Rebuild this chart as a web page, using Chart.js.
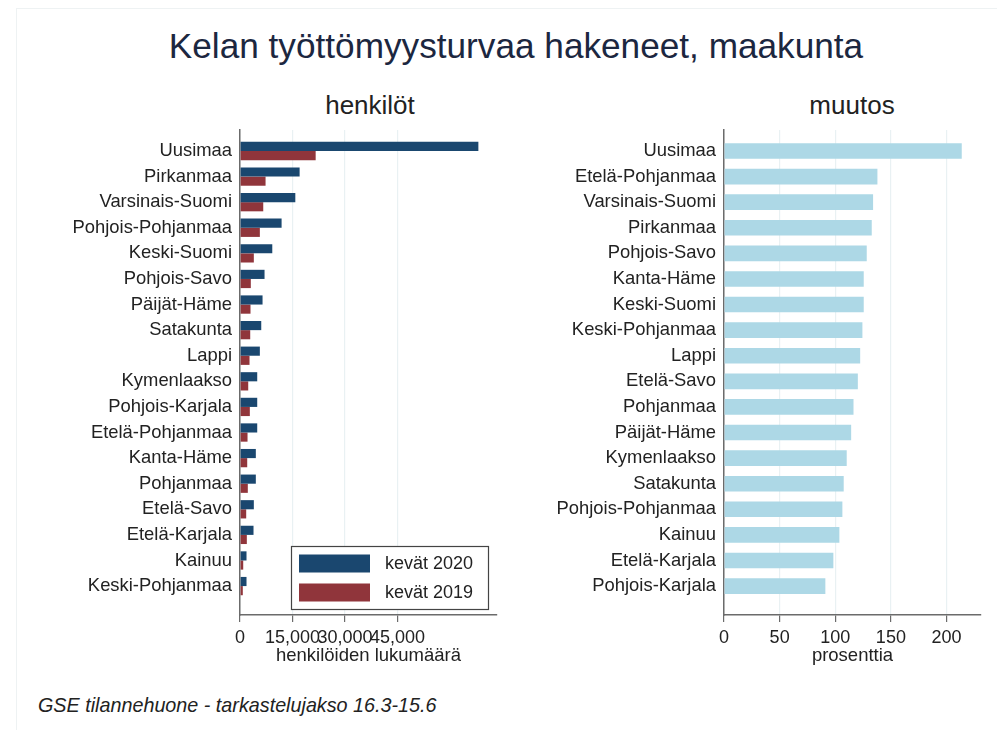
<!DOCTYPE html>
<html>
<head>
<meta charset="utf-8">
<script src="https://cdn.jsdelivr.net/npm/chart.js@4.4.1/dist/chart.umd.min.js"></script>
<style>
  body { margin: 0; background: #fff; font-family: "Liberation Sans", Arial, sans-serif; }
  #page { position: relative; width: 997px; height: 730px; overflow: hidden; background: #fff; }
  #frame { position: absolute; left: 16px; top: 8px; right: -2px; bottom: -2px;
           border-left: 1px solid #eef2f3; border-top: 1px solid #eef2f3; }
  .txt { position: absolute; white-space: nowrap; line-height: 1; color: #1c2740; }
  #title { left: 516px; top: 28px; transform: translateX(-50%); font-size: 35.2px; }
  #sub1 { left: 370px; top: 92px; transform: translateX(-50%); font-size: 26px; color: #222; }
  #sub2 { left: 852px; top: 92px; transform: translateX(-50%); font-size: 26px; color: #222; }
  #note { left: 38px; top: 696px; font-size: 19.75px; font-style: italic; color: #222; }
  canvas { position: absolute; top: 120px; }
  #left { left: 0; }
  #right { left: 500px; }
</style>
</head>
<body>
<div id="page">
  <div id="frame"></div>
  <div class="txt" id="title">Kelan työttömyysturvaa hakeneet, maakunta</div>
  <div class="txt" id="sub1">henkilöt</div>
  <div class="txt" id="sub2">muutos</div>
  <canvas id="left" width="510" height="551"></canvas>
  <canvas id="right" width="497" height="551"></canvas>
  <div class="txt" id="note">GSE tilannehuone - tarkastelujakso 16.3-15.6</div>
</div>
<script>
// henkilöt (vasen paneeli)
const maakunnat = ['Uusimaa', 'Pirkanmaa', 'Varsinais-Suomi', 'Pohjois-Pohjanmaa', 'Keski-Suomi',
  'Pohjois-Savo', 'Päijät-Häme', 'Satakunta', 'Lappi', 'Kymenlaakso', 'Pohjois-Karjala',
  'Etelä-Pohjanmaa', 'Kanta-Häme', 'Pohjanmaa', 'Etelä-Savo', 'Etelä-Karjala', 'Kainuu', 'Keski-Pohjanmaa'];
const kevat2020 = [68080, 17030, 15800, 11880, 9220, 7010, 6440, 6070, 5670, 4920, 4920, 4920, 4520, 4520, 3950, 3860, 1860, 1860];
const kevat2019 = [21610, 7300, 6640, 5670, 3950, 3090, 3000, 2920, 2720, 2350, 2810, 2150, 2060, 2230, 1770, 1950, 920, 800];
const henkiloTicks = [0, 15000, 30000, 45000];

// muutos (oikea paneeli)
const muutosMaakunnat = ['Uusimaa', 'Etelä-Pohjanmaa', 'Varsinais-Suomi', 'Pirkanmaa', 'Pohjois-Savo',
  'Kanta-Häme', 'Keski-Suomi', 'Keski-Pohjanmaa', 'Lappi', 'Etelä-Savo', 'Pohjanmaa', 'Päijät-Häme',
  'Kymenlaakso', 'Satakunta', 'Pohjois-Pohjanmaa', 'Kainuu', 'Etelä-Karjala', 'Pohjois-Karjala'];
const muutosProsentti = [213.7, 137.9, 134.0, 132.8, 128.3, 125.6, 125.6, 124.4, 122.4, 120.3, 116.4, 114.3,
  110.3, 107.6, 106.4, 103.7, 98.3, 91.1];
const muutosTicks = [0, 50, 100, 150, 200];

const FONT = '"Liberation Sans", Arial, sans-serif';
const TEXT = '#222';
const GRID = '#e9f1f3';
const AXIS = '#6b6b6b';

function points(values) {
  return values.map((v, i) => ({ x: v, y: i }));
}

// legenda piirretään kuva-alueen sisään
const legendBox = {
  id: 'legendBox',
  afterDraw(chart) {
    const { ctx, chartArea } = chart;
    const w = 197, h = 63;
    const x = chartArea.left + 51, y = chartArea.bottom - 6 - h;
    ctx.save();
    ctx.fillStyle = '#fff';
    ctx.fillRect(x, y, w, h);
    ctx.strokeStyle = '#444';
    ctx.lineWidth = 1.2;
    ctx.strokeRect(x + 0.5, y + 0.5, w, h);
    ctx.font = '18px ' + FONT;
    ctx.textBaseline = 'middle';
    chart.data.datasets.forEach((ds, i) => {
      const sy = y + 8.5 + i * 29;
      ctx.fillStyle = ds.backgroundColor;
      ctx.fillRect(x + 8, sy, 71, 18);
      ctx.fillStyle = TEXT;
      ctx.fillText(ds.label, x + 94, sy + 10);
    });
    ctx.restore();
  }
};

function options(labels, ticks, max, axisTitle, yWidth, padRight) {
  return {
    indexAxis: 'y',
    responsive: false,
    animation: false,
    layout: { padding: { top: 10, right: padRight, left: 0, bottom: 0 } },
    plugins: { legend: { display: false }, tooltip: { enabled: false } },
    scales: {
      y: {
        type: 'linear',
        reverse: true,
        offset: false,
        min: -0.82,
        max: 18.13,
        afterBuildTicks: s => { s.ticks = labels.map((_, i) => ({ value: i })); },
        afterFit: s => { s.width = yWidth; s.paddingTop = 0; s.paddingBottom = 0; },
        ticks: {
          autoSkip: false,
          padding: 8,
          color: TEXT,
          font: { family: FONT, size: 18.4 },
          callback: v => labels[v]
        },
        grid: { drawOnChartArea: false, drawTicks: false },
        border: { color: AXIS, width: 1.5 }
      },
      x: {
        min: 0,
        max: max,
        afterBuildTicks: s => { s.ticks = ticks.map(v => ({ value: v })); },
        afterFit: s => { s.height = 56; },
        ticks: {
          autoSkip: false,
          maxRotation: 0,
          padding: 5,
          color: TEXT,
          font: { family: FONT, size: 18 },
          callback: v => v.toLocaleString('en-US')
        },
        grid: { color: GRID, lineWidth: 1.2, tickColor: AXIS, tickLength: 7 },
        border: { color: AXIS, width: 1.5 },
        title: {
          display: true,
          text: axisTitle,
          color: TEXT,
          font: { family: FONT, size: 18.5 },
          padding: { top: 0, bottom: 4 }
        }
      }
    }
  };
}

new Chart(document.getElementById('left'), {
  type: 'bar',
  data: {
    datasets: [
      { label: 'kevät 2020', data: points(kevat2020), backgroundColor: '#1a476f',
        categoryPercentage: 0.715, barPercentage: 1 },
      { label: 'kevät 2019', data: points(kevat2019), backgroundColor: '#90353b',
        categoryPercentage: 0.715, barPercentage: 1 }
    ]
  },
  options: options(maakunnat, henkiloTicks, 73400, 'henkilöiden lukumäärä', 240, 13),
  plugins: [legendBox]
});

new Chart(document.getElementById('right'), {
  type: 'bar',
  data: {
    datasets: [
      { label: 'muutos', data: points(muutosProsentti), backgroundColor: '#add8e6',
        categoryPercentage: 0.61, barPercentage: 1 }
    ]
  },
  options: options(muutosMaakunnat, muutosTicks, 231, 'prosenttia', 224, 16)
});
</script>
</body>
</html>
